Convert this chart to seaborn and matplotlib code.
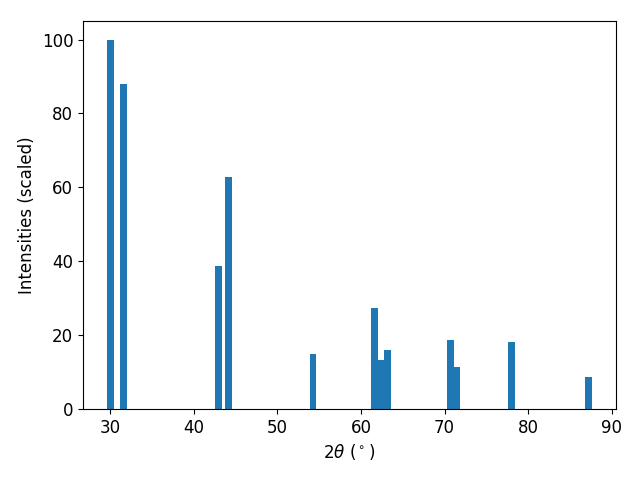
import matplotlib
matplotlib.use("Agg")
import matplotlib.pyplot as plt
import seaborn as sns

two_theta = [30.06, 31.6, 42.96, 44.16, 54.25, 61.6, 62.4, 63.2, 70.7, 71.5, 78.0, 87.2]
intensities = [100.0, 87.9, 38.6, 62.8, 14.9, 27.4, 13.3, 16.0, 18.75, 11.4, 18.2, 8.7]

sns.reset_orig()

fig, ax = plt.subplots(figsize=(6.4, 4.8), dpi=100)
ax.bar(two_theta, intensities, width=0.8, color="#1f77b4", linewidth=0)
ax.set_xlabel(r"$2\theta$ ($^\circ$)", fontsize=12)
ax.set_ylabel("Intensities (scaled)", fontsize=12)
ax.tick_params(labelsize=12)
fig.subplots_adjust(left=0.1297, right=0.9625, top=0.956, bottom=0.148)
fig.savefig("out.png", dpi=100)
